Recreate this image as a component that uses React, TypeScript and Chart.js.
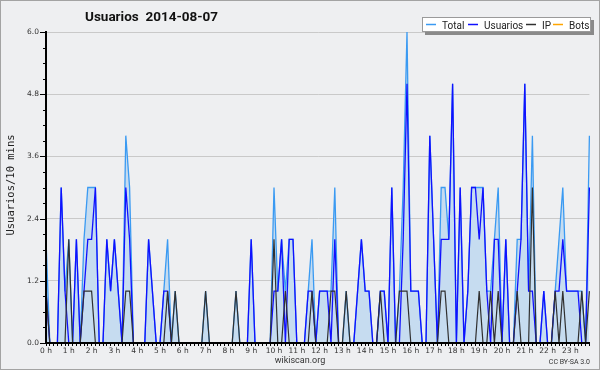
import { useEffect, useRef } from "react";
import { Chart, registerables } from "chart.js";

Chart.register(...registerables);

const chartTitle = "Usuarios  2014-08-07";
const yAxisTitle = "Usuarios/10 mins";
const footerLeft = "wikiscan.org";
const footerRight = "CC BY-SA 3.0";

const hourLabels = [
  "0 h", "1 h", "2 h", "3 h", "4 h", "5 h", "6 h", "7 h", "8 h", "9 h", "10 h", "11 h",
  "12 h", "13 h", "14 h", "15 h", "16 h", "17 h", "18 h", "19 h", "20 h", "21 h", "22 h", "23 h",
];
const minuteSlots = ["00", "10", "20", "30", "40", "50"];

const seriesNames = ["Total", "Usuarios", "IP", "Bots"];
const seriesColors = ["#3a9af2", "#1010ff", "#303030", "#ffa500"];

// one row per hour, six 10-minute slots per row
const total = [
  2, 0, 0, 0, 3, 1,
  2, 0, 2, 0, 2, 3,
  3, 3, 0, 0, 2, 1,
  2, 1, 0, 4, 3, 0,
  0, 0, 0, 2, 1, 0,
  0, 1, 2, 0, 1, 0,
  0, 0, 0, 0, 0, 0,
  1, 0, 0, 0, 0, 0,
  0, 0, 1, 0, 0, 0,
  2, 0, 0, 0, 0, 0,
  3, 1, 2, 1, 2, 2,
  0, 0, 0, 1, 2, 0,
  1, 1, 1, 1, 3, 0,
  0, 1, 0, 0, 1, 2,
  1, 1, 0, 0, 1, 1,
  0, 3, 0, 1, 3, 6,
  1, 1, 1, 0, 0, 4,
  2, 0, 3, 3, 2, 5,
  0, 3, 0, 1, 3, 3,
  3, 3, 1, 1, 2, 3,
  0, 2, 0, 0, 2, 2,
  5, 1, 4, 0, 0, 1,
  0, 0, 1, 2, 3, 1,
  1, 1, 1, 1, 0, 4,
];

const usuarios = [
  1, 0, 0, 0, 3, 1,
  0, 0, 2, 0, 1, 2,
  2, 3, 0, 0, 2, 1,
  2, 1, 0, 3, 2, 0,
  0, 0, 0, 2, 1, 0,
  0, 1, 1, 0, 0, 0,
  0, 0, 0, 0, 0, 0,
  0, 0, 0, 0, 0, 0,
  0, 0, 0, 0, 0, 0,
  2, 0, 0, 0, 0, 0,
  1, 1, 2, 0, 2, 2,
  0, 0, 0, 1, 1, 0,
  1, 1, 1, 0, 2, 0,
  0, 0, 0, 0, 1, 2,
  1, 1, 0, 0, 1, 1,
  0, 3, 0, 0, 2, 5,
  1, 1, 1, 0, 0, 4,
  2, 0, 2, 2, 2, 5,
  0, 3, 0, 1, 3, 3,
  2, 3, 1, 0, 2, 2,
  0, 2, 0, 0, 1, 2,
  5, 1, 1, 0, 0, 1,
  0, 0, 1, 1, 2, 1,
  1, 1, 1, 0, 0, 3,
];

const ip = [
  1, 0, 0, 0, 0, 0,
  2, 0, 0, 0, 1, 1,
  1, 0, 0, 0, 0, 0,
  0, 0, 0, 1, 1, 0,
  0, 0, 0, 0, 0, 0,
  0, 0, 1, 0, 1, 0,
  0, 0, 0, 0, 0, 0,
  1, 0, 0, 0, 0, 0,
  0, 0, 1, 0, 0, 0,
  0, 0, 0, 0, 0, 0,
  2, 0, 0, 1, 0, 0,
  0, 0, 0, 0, 1, 0,
  0, 0, 0, 1, 1, 0,
  0, 1, 0, 0, 0, 0,
  0, 0, 0, 0, 1, 0,
  0, 0, 0, 1, 1, 1,
  0, 0, 0, 0, 0, 0,
  0, 0, 1, 1, 0, 0,
  0, 0, 0, 0, 0, 0,
  1, 0, 0, 1, 0, 1,
  0, 0, 0, 0, 1, 0,
  0, 0, 3, 0, 0, 0,
  0, 0, 1, 0, 1, 0,
  0, 0, 0, 1, 0, 1,
];

const bots = [
  0, 0, 0, 0, 0, 0,
  0, 0, 0, 0, 0, 0,
  0, 0, 0, 0, 0, 0,
  0, 0, 0, 0, 0, 0,
  0, 0, 0, 0, 0, 0,
  0, 0, 0, 0, 0, 0,
  0, 0, 0, 0, 0, 0,
  0, 0, 0, 0, 0, 0,
  0, 0, 0, 0, 0, 0,
  0, 0, 0, 0, 0, 0,
  0, 0, 0, 0, 0, 0,
  0, 0, 0, 0, 0, 0,
  0, 0, 0, 0, 0, 0,
  0, 0, 0, 0, 0, 0,
  0, 0, 0, 0, 0, 0,
  0, 0, 0, 0, 0, 0,
  0, 0, 0, 0, 0, 0,
  0, 0, 0, 0, 0, 0,
  0, 0, 0, 0, 0, 0,
  0, 0, 0, 0, 0, 0,
  0, 0, 0, 0, 0, 0,
  0, 0, 0, 0, 0, 0,
  0, 0, 0, 0, 0, 0,
  0, 0, 0, 0, 0, 0,
];

const yMax = 6;
const yMinorStep = 0.3;
const yMajorStep = 1.2;

const categories = hourLabels.flatMap((h) => minuteSlots.map((m) => h + ":" + m));

const isMajor = (v: number) => Math.abs(v / yMajorStep - Math.round(v / yMajorStep)) < 1e-6;

const W = 600;
const H = 370;
const PLOT_LEFT = 46;
const PLOT_TOP = 32;
const PLOT_BOTTOM = 343;
const PLOT_RIGHT = 589.4;

const decorPlugin = {
  id: "decor",
  beforeDraw(chart: any) {
    const ctx = chart.ctx;
    ctx.save();
    ctx.fillStyle = "#eeeff1";
    ctx.fillRect(0, 0, W, H);
    ctx.strokeStyle = "#a3a3a3";
    ctx.lineWidth = 1;
    ctx.strokeRect(0.5, 0.5, W - 1, H - 1);
    ctx.restore();
  },
  afterDraw(chart: any) {
    const ctx = chart.ctx;
    const ys = chart.scales.y;
    const left = chart.chartArea.left;
    ctx.save();
    // y tick marks (major longer)
    ctx.strokeStyle = "#000";
    ctx.lineWidth = 1;
    ys.ticks.forEach((t: any) => {
      const py = Math.round(ys.getPixelForValue(t.value)) + 0.5;
      const len = isMajor(t.value) ? 6 : 3;
      ctx.beginPath();
      ctx.moveTo(left - len, py);
      ctx.lineTo(left, py);
      ctx.stroke();
    });

    // title
    ctx.fillStyle = "#111";
    ctx.font = "bold 13.5px Roboto";
    ctx.textAlign = "left";
    ctx.textBaseline = "alphabetic";
    ctx.fillText(chartTitle, 85, 21);

    // y axis title
    ctx.save();
    ctx.translate(14, 185);
    ctx.rotate(-Math.PI / 2);
    ctx.textAlign = "center";
    ctx.font = '10.5px "DejaVu Sans Mono"';
    ctx.fillStyle = "#222";
    ctx.fillText(yAxisTitle, 0, 0);
    ctx.restore();

    // legend
    const bx = 422, by = 17, bw = 169, bh = 15;
    ctx.fillStyle = "#8a8a8a";
    ctx.fillRect(bx + 3, by + 3, bw, bh);
    ctx.fillStyle = "#ffffff";
    ctx.fillRect(bx, by, bw, bh);
    ctx.strokeStyle = "#9a9a9a";
    ctx.strokeRect(bx + 0.5, by + 0.5, bw - 1, bh - 1);
    const lineStarts = [426, 468, 526, 553];
    ctx.font = "10px Roboto";
    ctx.textBaseline = "alphabetic";
    seriesNames.forEach((name, k) => {
      ctx.strokeStyle = seriesColors[k];
      ctx.lineWidth = 1.5;
      ctx.beginPath();
      ctx.moveTo(lineStarts[k], 24.5);
      ctx.lineTo(lineStarts[k] + 10, 24.5);
      ctx.stroke();
      ctx.fillStyle = "#222";
      ctx.fillText(name, lineStarts[k] + 16, 28.5);
    });

    // footer
    ctx.fillStyle = "#333";
    ctx.font = "9px Roboto";
    ctx.textAlign = "center";
    ctx.fillText(footerLeft, 300, 363);
    ctx.font = "7px Roboto";
    ctx.textAlign = "right";
    ctx.fillText(footerRight, 590, 364);
    ctx.restore();
  },
};

export default function App() {
  const ref = useRef<HTMLCanvasElement | null>(null);

  useEffect(() => {
    if (!ref.current) return;
    const chart = new Chart(ref.current, {
      type: "line",
      data: {
        labels: categories,
        datasets: [
          {
            label: seriesNames[0],
            data: total,
            borderColor: seriesColors[0],
            backgroundColor: "#c6dcf0",
            fill: "origin",
            borderWidth: 1.3,
            order: 3,
          },
          {
            label: seriesNames[1],
            data: usuarios,
            borderColor: seriesColors[1],
            borderWidth: 1.3,
            fill: false,
            order: 2,
          },
          {
            label: seriesNames[2],
            data: ip,
            borderColor: seriesColors[2],
            borderWidth: 1.2,
            fill: false,
            order: 1,
          },
          {
            label: seriesNames[3],
            data: bots,
            borderColor: seriesColors[3],
            borderWidth: 1.2,
            fill: false,
            order: 4,
          },
        ],
      },
      options: {
        responsive: false,
        animation: false,
        devicePixelRatio: 1,
        layout: { padding: { left: 0, top: PLOT_TOP, right: W - PLOT_RIGHT, bottom: 0 } },
        elements: { point: { radius: 0 }, line: { tension: 0 } },
        plugins: {
          legend: { display: false },
          tooltip: { enabled: false },
          title: { display: false },
        },
        scales: {
          x: {
            type: "category",
            offset: false,
            grid: {
              drawOnChartArea: false,
              drawTicks: true,
              tickLength: 3,
              tickColor: "#000",
              color: "#000",
            },
            border: { display: true, color: "#000", width: 2, z: 1 },
            ticks: {
              autoSkip: false,
              maxRotation: 0,
              minRotation: 0,
              padding: 1,
              color: "#333",
              font: { family: "DejaVu Sans", size: 7.5 },
              callback: (_v: any, idx: number) => (idx % 6 === 0 ? hourLabels[idx / 6] : ""),
            },
            afterFit: (s: any) => {
              s.height = H - PLOT_BOTTOM;
            },
          },
          y: {
            min: 0,
            max: yMax,
            grid: {
              drawTicks: false,
              color: (c: any) => (isMajor(c.tick.value) ? "#c9c9c9" : "rgba(0,0,0,0)"),
              lineWidth: 1,
            },
            border: { display: true, color: "#000", width: 2, z: 1 },
            ticks: {
              stepSize: yMinorStep,
              autoSkip: false,
              padding: 7,
              color: "#333",
              font: { family: "DejaVu Sans", size: 7.5 },
              callback: (v: any) => (isMajor(Number(v)) ? Number(v).toFixed(1) : ""),
            },
            afterFit: (s: any) => {
              s.width = PLOT_LEFT;
            },
          },
        },
      },
      plugins: [decorPlugin],
    });
    return () => chart.destroy();
  }, []);

  return (
    <div style={{ position: "absolute", left: 0, top: 0, width: W, height: H }}>
      <canvas ref={ref} width={W} height={H} style={{ display: "block", width: W, height: H }} />
    </div>
  );
}
